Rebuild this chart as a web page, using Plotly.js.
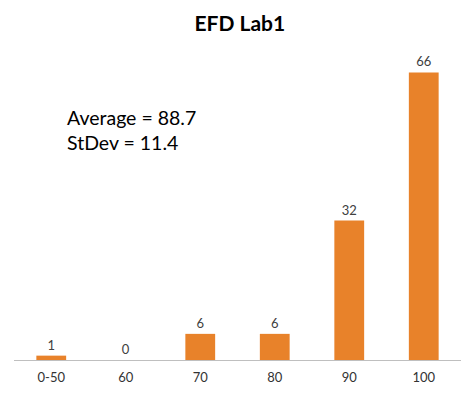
<!DOCTYPE html>
<html>
<head>
<meta charset="utf-8">
<script src="https://cdn.plot.ly/plotly-3.0.1.min.js"></script>
<style>html,body{margin:0;padding:0;background:#fff;}#chart{width:475px;height:394px;}</style>
</head>
<body>
<div id="chart"></div>
<script>
const categories = ["0-50", "60", "70", "80", "90", "100"];
const counts = [1, 0, 6, 6, 32, 66];
const titleText = "EFD Lab1";
const statsText = "Average = 88.7<br>StDev = 11.4";

const trace = {
  type: "bar",
  x: categories,
  y: counts,
  text: counts.map(String),
  textposition: "outside",
  cliponaxis: false,
  textfont: {family: "Lato, 'Open Sans', sans-serif", size: 13, color: "#404040"},
  marker: {color: "#E8822A", line: {width: 0}},
  width: 0.4,
  hoverinfo: "x+y"
};

const layout = {
  width: 475,
  height: 394,
  margin: {l: 14, r: 14, t: 55, b: 34},
  paper_bgcolor: "#ffffff",
  plot_bgcolor: "#ffffff",
  showlegend: false,
  title: {
    text: "<b>" + titleText + "</b>",
    font: {family: "Lato, 'Open Sans', sans-serif", size: 21, color: "#000000"},
    x: 0.505, xanchor: "center", y: 0.94, yanchor: "middle"
  },
  xaxis: {
    type: "category",
    showgrid: false,
    zeroline: false,
    showline: true,
    linecolor: "#BFBFBF",
    linewidth: 1,
    ticks: "",
    tickfont: {family: "Lato, 'Open Sans', sans-serif", size: 13, color: "#333333"},
    ticklabelstandoff: 5
  },
  yaxis: {
    range: [0, 70],
    visible: false,
    showgrid: false,
    zeroline: false
  },
  annotations: [{
    text: statsText,
    xref: "paper", yref: "paper",
    x: 0.115, y: 0.84,
    xanchor: "left", yanchor: "top",
    align: "left",
    showarrow: false,
    font: {family: "Lato, 'Open Sans', sans-serif", size: 19.5, color: "#000000"}
  }]
};

Plotly.newPlot("chart", [trace], layout, {displayModeBar: false, staticPlot: true});
</script>
</body>
</html>
